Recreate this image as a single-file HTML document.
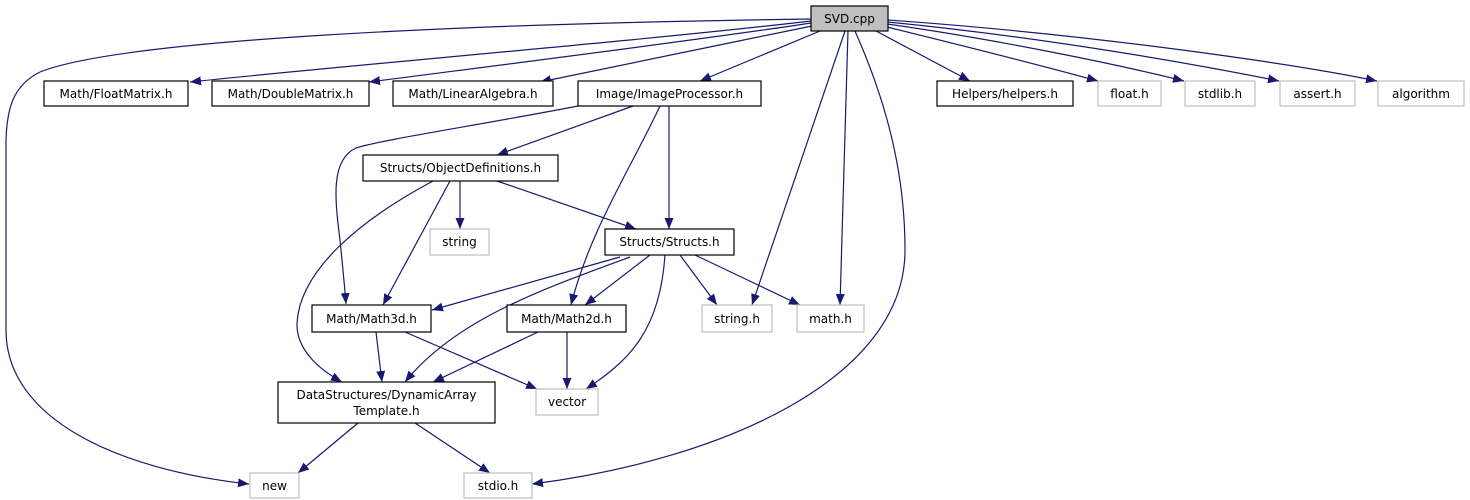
<!DOCTYPE html>
<html><head><meta charset="utf-8"><style>
html,body{margin:0;padding:0;background:#fff;width:1470px;height:500px;overflow:hidden}
text{font-family:"DejaVu Sans","Liberation Sans",sans-serif;font-size:12px;fill:#000}
</style></head><body>
<svg width="1470" height="500" viewBox="0 0 1470 500" xmlns="http://www.w3.org/2000/svg">
<defs>
<marker id="a" markerUnits="userSpaceOnUse" markerWidth="12" markerHeight="10" refX="11" refY="4.5" orient="auto">
<path d="M0,0 L11,4.5 L0,9 z" fill="#191970"/>
</marker>
</defs>
<g fill="none" stroke="#191970" stroke-width="1.2" marker-end="url(#a)">
<path d="M811,19 C450,24 120,40 40,72 C12,86 7,110 6,140 L6,330 C6,420 120,470 249,484"/>
<path d="M811,21 C650,40 350,65 190,82"/>
<path d="M811,23 C700,40 500,65 369,82"/>
<path d="M812,26 C720,45 620,65 540,82"/>
<path d="M820,31 L700,81"/>
<path d="M845,31 L752,305"/>
<path d="M848,31 L840,305"/>
<path d="M855,31 C890,110 905,180 905,250 C905,380 720,460 532,484"/>
<path d="M876,31 L970,81"/>
<path d="M887,27 C960,45 1040,65 1098,81"/>
<path d="M887,24 C1000,40 1120,65 1184,81"/>
<path d="M888,22 C1050,38 1200,65 1279,81"/>
<path d="M888,20 C1100,35 1300,65 1377,81"/>
<path d="M578,106 C480,125 380,140 356,148 C330,160 335,200 340,240 C343,270 345,290 346,304"/>
<path d="M633,106 L497,155"/>
<path d="M660,106 C630,170 590,230 571,305"/>
<path d="M669,106 L669,229"/>
<path d="M433,181 C360,220 300,270 297,323 C296,350 320,370 342,382"/>
<path d="M450,181 L383,305"/>
<path d="M460,181 L460,229"/>
<path d="M497,181 L636,229"/>
<path d="M620,257 L432,310"/>
<path d="M630,257 C540,290 455,320 405,382"/>
<path d="M650,255 L585,305"/>
<path d="M665,255 C660,330 630,360 586,389"/>
<path d="M680,255 L717,305"/>
<path d="M695,255 L800,305"/>
<path d="M376,332 L382,382"/>
<path d="M405,332 L537,389"/>
<path d="M538,332 L433,382"/>
<path d="M567,332 L567,389"/>
<path d="M358,423 L298,473"/>
<path d="M415,423 L490,473"/>
</g>
<g stroke-width="1.2">
<rect x="811" y="6" width="77" height="25" fill="#bfbfbf" stroke="#000"/>
<rect x="44" y="81" width="144" height="25" fill="#fff" stroke="#000"/>
<rect x="212" y="81" width="157" height="25" fill="#fff" stroke="#000"/>
<rect x="393" y="81" width="160" height="25" fill="#fff" stroke="#000"/>
<rect x="578" y="81" width="183" height="25" fill="#fff" stroke="#000"/>
<rect x="937" y="81" width="136" height="25" fill="#fff" stroke="#000"/>
<rect x="1098" y="81" width="63" height="25" fill="#fff" stroke="#bfbfbf"/>
<rect x="1185" y="81" width="70" height="25" fill="#fff" stroke="#bfbfbf"/>
<rect x="1280" y="81" width="75" height="25" fill="#fff" stroke="#bfbfbf"/>
<rect x="1378" y="81" width="86" height="25" fill="#fff" stroke="#bfbfbf"/>
<rect x="363" y="155" width="195" height="26" fill="#fff" stroke="#000"/>
<rect x="430" y="229" width="59" height="26" fill="#fff" stroke="#bfbfbf"/>
<rect x="605" y="229" width="129" height="26" fill="#fff" stroke="#000"/>
<rect x="312" y="305" width="119" height="27" fill="#fff" stroke="#000"/>
<rect x="507" y="305" width="119" height="27" fill="#fff" stroke="#000"/>
<rect x="702" y="305" width="70" height="27" fill="#fff" stroke="#bfbfbf"/>
<rect x="797" y="305" width="67" height="27" fill="#fff" stroke="#bfbfbf"/>
<rect x="278" y="382" width="217" height="41" fill="#fff" stroke="#000"/>
<rect x="536" y="389" width="62" height="26" fill="#fff" stroke="#bfbfbf"/>
<rect x="250" y="473" width="49" height="25" fill="#fff" stroke="#bfbfbf"/>
<rect x="464" y="473" width="68" height="25" fill="#fff" stroke="#bfbfbf"/>
</g>
<g text-anchor="middle">
<text x="849.5" y="23">SVD.cpp</text>
<text x="116" y="98">Math/FloatMatrix.h</text>
<text x="290.5" y="98">Math/DoubleMatrix.h</text>
<text x="473" y="98">Math/LinearAlgebra.h</text>
<text x="669.5" y="98">Image/ImageProcessor.h</text>
<text x="1005" y="98">Helpers/helpers.h</text>
<text x="1129.5" y="98">float.h</text>
<text x="1220" y="98">stdlib.h</text>
<text x="1317.5" y="98">assert.h</text>
<text x="1421" y="98">algorithm</text>
<text x="460.5" y="172">Structs/ObjectDefinitions.h</text>
<text x="459.5" y="246">string</text>
<text x="669.5" y="246">Structs/Structs.h</text>
<text x="371.5" y="323">Math/Math3d.h</text>
<text x="566.5" y="323">Math/Math2d.h</text>
<text x="737" y="323">string.h</text>
<text x="830.5" y="323">math.h</text>
<text x="386.5" y="399">DataStructures/DynamicArray</text>
<text x="386.5" y="415">Template.h</text>
<text x="567" y="406">vector</text>
<text x="274.5" y="490">new</text>
<text x="498" y="490">stdio.h</text>
</g>
</svg>
</body></html>
